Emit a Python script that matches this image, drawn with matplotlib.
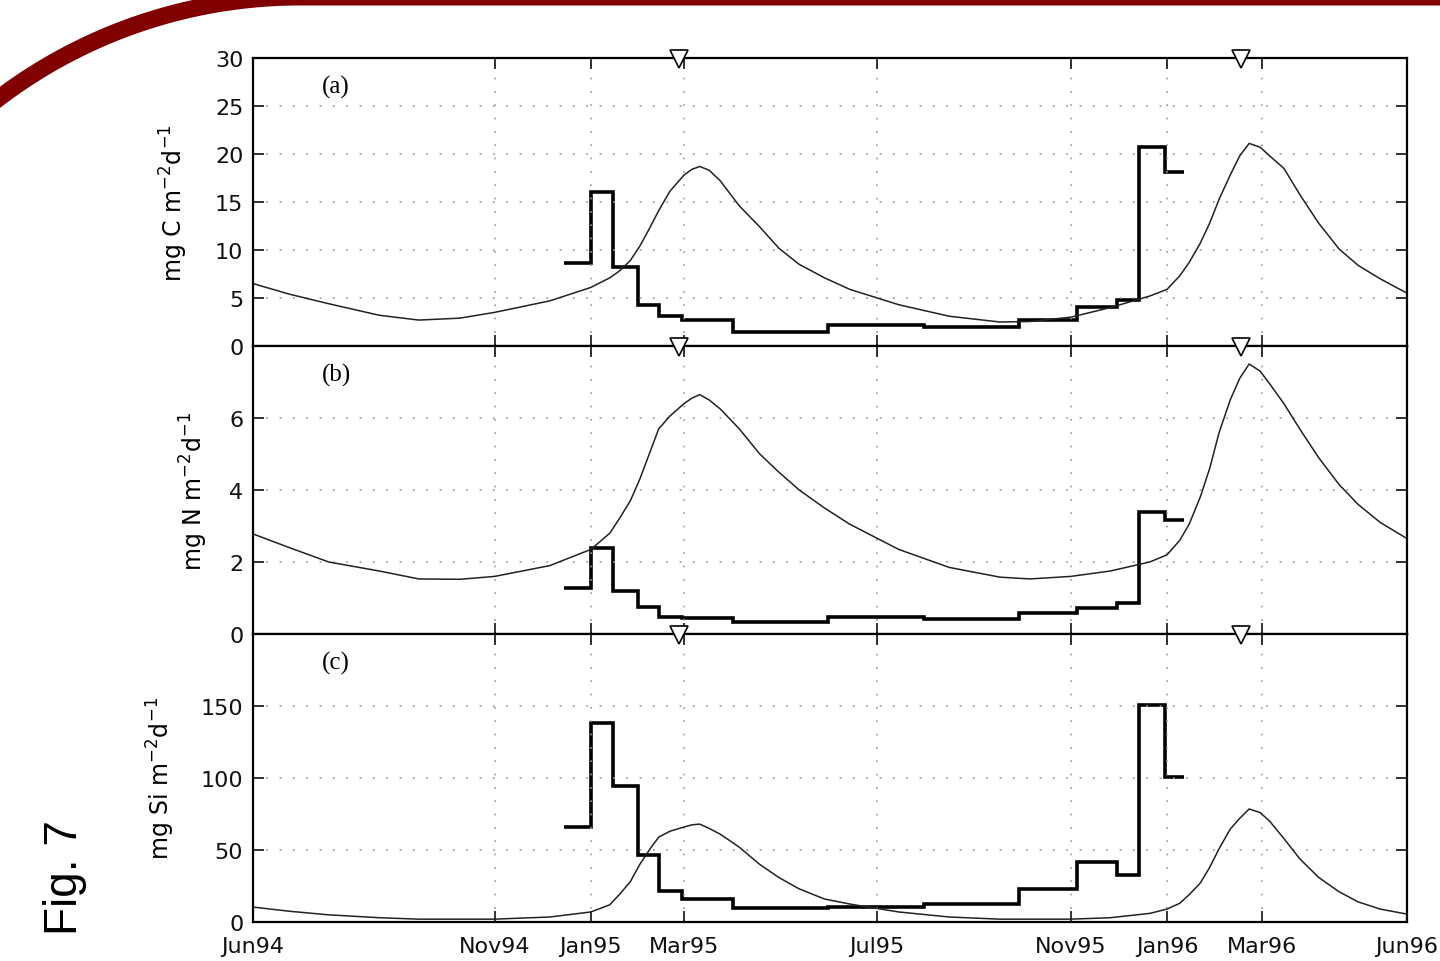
import matplotlib
matplotlib.use("Agg")
import matplotlib.pyplot as plt
import matplotlib.dates as mdates
import numpy as np
import pandas as pd

plt.rcParams['font.family'] = ['DejaVu Sans']

# x axis ticks
tick_dates = ['1994-06-01', '1994-11-01', '1995-01-01', '1995-03-01', '1995-07-01',
              '1995-11-01', '1996-01-01', '1996-03-01', '1996-06-01']
tick_labels = ['Jun94', 'Nov94', 'Jan95', 'Mar95', 'Jul95', 'Nov95', 'Jan96', 'Mar96', 'Jun96']

# triangle markers on top of each panel
marker_dates = ['1995-02-26', '1996-02-17']

# sediment trap sampling intervals (bin edges)
trap_edges = ['1994-12-15', '1995-01-01', '1995-01-15', '1995-01-31', '1995-02-13',
              '1995-02-28', '1995-04-01', '1995-05-31', '1995-07-31', '1995-09-29',
              '1995-11-05', '1995-11-30', '1995-12-14', '1995-12-31', '1996-01-12']
trap_C = [8.6, 16.0, 8.2, 4.3, 3.1, 2.7, 1.45, 2.2, 2.0, 2.7, 4.1, 4.8, 20.7, 18.1]
trap_N = [1.27, 2.4, 1.2, 0.75, 0.47, 0.45, 0.32, 0.47, 0.42, 0.58, 0.72, 0.86, 3.38, 3.17]
trap_Si = [66, 138, 94.5, 46.5, 21.5, 16, 9.7, 10.5, 12.5, 23, 41.5, 32.6, 151, 101]

# model flux
model_dates = ['1994-06-01', '1994-06-24', '1994-07-19', '1994-08-20', '1994-09-14',
               '1994-10-10', '1994-11-01', '1994-12-06', '1995-01-01', '1995-01-13',
               '1995-01-19', '1995-01-26', '1995-02-01', '1995-02-07', '1995-02-13',
               '1995-02-20', '1995-03-01', '1995-03-06', '1995-03-11', '1995-03-17',
               '1995-03-24', '1995-04-05', '1995-04-18', '1995-04-30', '1995-05-13',
               '1995-05-29', '1995-06-14', '1995-07-15', '1995-08-16', '1995-09-17',
               '1995-10-06', '1995-11-01', '1995-11-26', '1995-12-21', '1996-01-01',
               '1996-01-09', '1996-01-15', '1996-01-22', '1996-01-28', '1996-02-03',
               '1996-02-10', '1996-02-16', '1996-02-22', '1996-02-29', '1996-03-06',
               '1996-03-15', '1996-03-25', '1996-04-06', '1996-04-19', '1996-05-01',
               '1996-05-15', '1996-06-01']
model_C = [6.5, 5.4, 4.4, 3.2, 2.7, 2.9, 3.5, 4.7, 6.1, 7.1,
           7.8, 8.9, 10.4, 12.2, 14.1, 16.1, 17.8, 18.4, 18.7, 18.3,
           17.2, 14.6, 12.4, 10.2, 8.5, 7.1, 5.9, 4.3, 3.1, 2.5,
           2.55, 3.0, 4.0, 5.2, 5.9, 7.3, 8.7, 10.7, 12.8, 15.3,
           17.8, 19.8, 21.1, 20.7, 19.8, 18.5, 15.8, 12.8, 10.1, 8.4,
           7.0, 5.5]
model_N = [2.78, 2.4, 2.0, 1.75, 1.53, 1.52, 1.6, 1.9, 2.35, 2.8,
           3.2, 3.7, 4.3, 5.0, 5.7, 6.05, 6.4, 6.55, 6.65, 6.5,
           6.25, 5.7, 5.0, 4.5, 4.0, 3.5, 3.05, 2.35, 1.85, 1.58,
           1.53, 1.6, 1.75, 2.0, 2.2, 2.6, 3.05, 3.8, 4.6, 5.6,
           6.5, 7.1, 7.5, 7.3, 6.95, 6.4, 5.7, 4.9, 4.15, 3.6,
           3.1, 2.65]
model_Si = [10.4, 7.5, 5, 3, 2, 2, 2, 3.5, 7, 12,
            19, 28, 40, 50, 59, 63, 66, 67.5, 68, 65,
            61, 52, 40, 31, 23, 16, 12.5, 7, 3.5, 2,
            2, 2, 3, 6, 9, 13, 19, 27, 38, 51,
            64.5, 72, 78.5, 76, 70, 58, 44, 31, 21, 14,
            9, 5.5]

panels = [
    ('(a)', trap_C, model_C, 30, [0, 5, 10, 15, 20, 25, 30], r'mg C m$^{-2}$d$^{-1}$', -0.055),
    ('(b)', trap_N, model_N, 8, [0, 2, 4, 6, 8], r'mg N m$^{-2}$d$^{-1}$', -0.037),
    ('(c)', trap_Si, model_Si, 200, [0, 50, 100, 150, 200], r'mg Si m$^{-2}$d$^{-1}$', -0.066),
]

tx = mdates.date2num(pd.to_datetime(tick_dates))
ex = mdates.date2num(pd.to_datetime(trap_edges))
mx = mdates.date2num(pd.to_datetime(model_dates))
kx = mdates.date2num(pd.to_datetime(marker_dates))

fig = plt.figure(figsize=(14.4, 9.62), dpi=100)

left, width, height = 0.1757, 0.8014, 0.2994
bottoms = [0.6393, 0.3399, 0.0405]

for i, (tag, trap, model, ymax, yt, ylab, labx) in enumerate(panels):
    ax = fig.add_axes([left, bottoms[i], width, height])
    ax.plot(mx, model, color='#222222', lw=1.1)
    ax.stairs(trap, ex, baseline=None, color='black', lw=2.6)
    ax.set_xlim(tx[0], tx[-1])
    ax.set_ylim(0, ymax)
    ax.set_xticks(tx)
    ax.set_yticks(yt)
    ylabels = [str(v) for v in yt]
    if ymax != 30:
        ylabels[-1] = ''
    ax.set_yticklabels(ylabels)
    if i == 2:
        ax.set_xticklabels(tick_labels)
    else:
        ax.set_xticklabels([])
    ax.tick_params(direction='in', length=8, width=1.2, top=True, right=True,
                   labelsize=16, pad=7, colors='#111111')
    ax.tick_params(axis='x', pad=10)
    ax.grid(True, color='#999999', linestyle=(0, (1, 7)), lw=1.2)
    for s in ax.spines.values():
        s.set_linewidth(1.6)
    ax.set_ylabel(ylab, fontsize=17)
    ax.yaxis.set_label_coords(labx, 0.5)
    ax.text(0.072, 0.9, tag, transform=ax.transAxes, fontsize=18,
            family=['Liberation Serif', 'DejaVu Serif'], ha='center', va='center')
    # markers sit a hair below the top spine
    ax.plot(kx, [ymax * 0.995] * len(kx), 'v', ms=13, mfc='white', mec='black', mew=1.2,
            clip_on=False, zorder=5)

# decorative arc band (filled so it survives canvas clipping) and Fig. label
deco = fig.add_axes([0, 0, 1, 1], zorder=-1)
deco.set_xlim(0, 1440)
deco.set_ylim(962, 0)
deco.axis('off')
th = np.linspace(np.pi, 1.5 * np.pi, 300)
cx, cy, r, h = 300, 497, 499, 8.5
outer_x = np.concatenate([cx + (r + h) * np.cos(th), [1460]])
outer_y = np.concatenate([cy + (r + h) * np.sin(th), [cy - r - h]])
inner_x = np.concatenate([[1460], cx + (r - h) * np.cos(th[::-1])])
inner_y = np.concatenate([[cy - r + h], cy + (r - h) * np.sin(th[::-1])])
deco.fill(np.concatenate([outer_x, inner_x]), np.concatenate([outer_y, inner_y]),
          color='#800000', lw=0, clip_on=False)

fig.text(0.045, 0.028, 'Fig. 7', rotation=90, fontsize=33, ha='center', va='bottom',
         family=['Liberation Sans', 'DejaVu Sans'])

fig.savefig('out.png', dpi=100)
